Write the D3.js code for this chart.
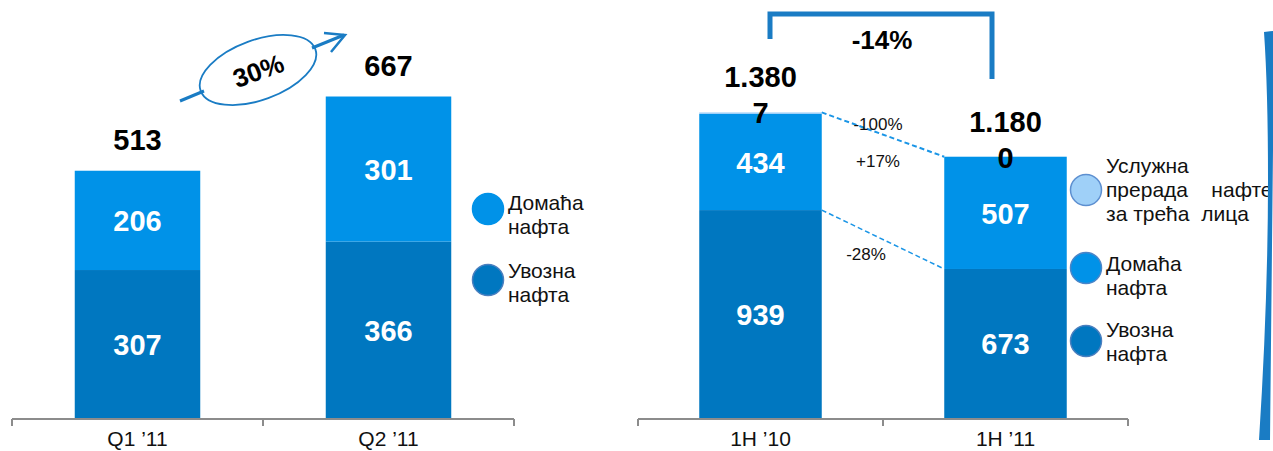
<!DOCTYPE html>
<html>
<head>
<meta charset="utf-8">
<script src="https://cdn.jsdelivr.net/npm/d3@7"></script>
<style>
  body { margin: 0; background: #fff; }
  svg { display: block; font-family: "Liberation Sans", Arial, sans-serif; }
</style>
</head>
<body>
<svg id="chart" width="1273" height="451"></svg>
<script>
var width = 1273, height = 451;

// left chart: quarters
var quarters = ["Q1 ’11", "Q2 ’11"];
var qImported = [307, 366];
var qDomestic = [206, 301];
var qTotals = ["513", "667"];

// right chart: half years
var halves = ["1H ’10", "1H ’11"];
var hImported = [939, 673];
var hDomestic = [434, 507];
var hService = [7, 0];
var hTotals = ["1.380", "1.180"];
var hChanges = ["-100%", "+17%", "-28%"];

var cDark = "#0077c0", cMid = "#0092e8", cLight = "#9fd0f8";

var svg = d3.select("#chart");

function drawAxis(x, y0) {
  var r = x.range(), step = x.step();
  var g = svg.append("g").attr("stroke", "#8c8c8c").attr("stroke-width", 2);
  g.append("line").attr("x1", r[0]).attr("x2", r[1]).attr("y1", y0).attr("y2", y0);
  [r[0], r[0] + step, r[1]].forEach(function(t) {
    g.append("line").attr("x1", t).attr("x2", t).attr("y1", y0).attr("y2", y0 + 7);
  });
}

function drawStack(x, y, cats, layers, colors) {
  cats.forEach(function(c, i) {
    var base = 0;
    layers.forEach(function(vals, k) {
      var v = vals[i];
      if (v > 0) {
        svg.append("rect")
          .attr("x", x(c)).attr("width", x.bandwidth())
          .attr("y", y(base + v)).attr("height", y(base) - y(base + v))
          .attr("fill", colors[k]);
      }
      base += v;
    });
  });
}

function segLabels(x, y, cats, lower, upper) {
  cats.forEach(function(c, i) {
    var cx = x(c) + x.bandwidth() / 2;
    [[0, lower[i]], [lower[i], lower[i] + upper[i]]].forEach(function(s) {
      svg.append("text")
        .attr("x", cx).attr("y", y((s[0] + s[1]) / 2) + 11)
        .attr("text-anchor", "middle").attr("fill", "#fff")
        .attr("font-weight", "bold").attr("font-size", 29)
        .text(s[1] - s[0]);
    });
  });
}

function legend(x0, items) {
  items.forEach(function(it) {
    svg.append("circle").attr("cx", x0).attr("cy", it.cy).attr("r", 15.5)
      .attr("fill", it.color).attr("stroke", it.stroke).attr("stroke-width", 1.5);
    it.lines.forEach(function(l, j) {
      svg.append("text").attr("x", x0 + 20).attr("y", it.ty + j * 24)
        .attr("font-size", 21).attr("fill", "#111").attr("xml:space", "preserve").text(l);
    });
  });
}

// ---------- left chart ----------
var xL = d3.scaleBand().domain(quarters).range([12, 514]).paddingInner(0.5).paddingOuter(0.25);
var yL = d3.scaleLinear().domain([0, 700]).range([418, 80.6]);

drawStack(xL, yL, quarters, [qImported, qDomestic], [cDark, cMid]);
drawAxis(xL, 419);
segLabels(xL, yL, quarters, qImported, qDomestic);

quarters.forEach(function(c, i) {
  var cx = xL(c) + xL.bandwidth() / 2;
  svg.append("text").attr("x", cx).attr("y", yL(qImported[i] + qDomestic[i]) - 21)
    .attr("text-anchor", "middle").attr("font-weight", "bold").attr("font-size", 29)
    .text(qTotals[i]);
  svg.append("text").attr("x", cx).attr("y", 446).attr("text-anchor", "middle")
    .attr("font-size", 21).attr("fill", "#111").text(c);
});

// growth arrow with ellipse
var arr = svg.append("g").attr("stroke", "#1a7cc4").attr("fill", "none");
arr.append("line").attr("x1", 180).attr("y1", 101).attr("x2", 204).attr("y2", 91).attr("stroke-width", 3);
arr.append("line").attr("x1", 312).attr("y1", 48).attr("x2", 344).attr("y2", 35).attr("stroke-width", 3);
arr.append("path").attr("d", "M324,33 L345,35 L331,52").attr("stroke-width", 2.5);
arr.append("ellipse").attr("cx", 258).attr("cy", 70).attr("rx", 61).attr("ry", 30)
  .attr("transform", "rotate(-20,258,70)").attr("stroke-width", 1.8);
svg.append("text").attr("x", 258).attr("y", 80).attr("text-anchor", "middle")
  .attr("font-weight", "bold").attr("font-size", 26)
  .attr("transform", "rotate(-20,258,70)").text("30%");

legend(488, [
  { cy: 209, ty: 210, color: cMid, stroke: cMid, lines: ["Домаћа", "нафта"] },
  { cy: 280, ty: 278, color: cDark, stroke: "#4a7fbf", lines: ["Увозна", "нафта"] }
]);

// ---------- right chart ----------
var xR = d3.scaleBand().domain(halves).range([638, 1128]).paddingInner(0.5).paddingOuter(0.25);
var yR = d3.scaleLinear().domain([0, 1400]).range([418, 108]);

drawStack(xR, yR, halves, [hImported, hDomestic, hService], [cDark, cMid, cLight]);
drawAxis(xR, 419);
segLabels(xR, yR, halves, hImported, hDomestic);

halves.forEach(function(c, i) {
  var cx = xR(c) + xR.bandwidth() / 2;
  var top = yR(hImported[i] + hDomestic[i] + hService[i]);
  svg.append("text").attr("x", cx).attr("y", top - 25)
    .attr("text-anchor", "middle").attr("font-weight", "bold").attr("font-size", 29)
    .text(hTotals[i]);
  svg.append("text").attr("x", cx).attr("y", top + 11)
    .attr("text-anchor", "middle").attr("font-weight", "bold").attr("font-size", 29)
    .text(hService[i]);
  svg.append("text").attr("x", cx).attr("y", 446).attr("text-anchor", "middle")
    .attr("font-size", 21).attr("fill", "#111").text(c);
});

// dashed connectors between bars
var xa = xR(halves[0]) + xR.bandwidth(), xb = xR(halves[1]);
[[hImported[0] + hDomestic[0] + hService[0], hImported[1] + hDomestic[1] + hService[1], 2],
 [hImported[0], hImported[1], 1.5]].forEach(function(d) {
  svg.append("line").attr("x1", xa).attr("y1", yR(d[0])).attr("x2", xb).attr("y2", yR(d[1]))
    .attr("stroke", "#1a95e6").attr("stroke-width", d[2]).attr("stroke-dasharray", "5,3");
});
[[878, 130], [878, 167], [866, 260]].forEach(function(p, i) {
  svg.append("text").attr("x", p[0]).attr("y", p[1]).attr("text-anchor", "middle")
    .attr("font-size", 17).attr("fill", "#111").text(hChanges[i]);
});

// -14% bracket
svg.append("path").attr("d", "M770,39 L770,14 L992,14 L992,79")
  .attr("fill", "none").attr("stroke", "#1a7cc4").attr("stroke-width", 5);
svg.append("text").attr("x", 882).attr("y", 49).attr("text-anchor", "middle")
  .attr("font-weight", "bold").attr("font-size", 26).text("-14%");

legend(1086, [
  { cy: 190, ty: 173, color: cLight, stroke: "#5d8fd0", lines: ["Услужна", "прерада    нафте", "за трећа  лица"] },
  { cy: 268, ty: 271, color: cMid, stroke: "#4a85c8", lines: ["Домаћа", "нафта"] },
  { cy: 341, ty: 337, color: cDark, stroke: "#4a7fbf", lines: ["Увозна", "нафта"] }
]);

// decorative stripe on the right edge
svg.append("path")
  .attr("d", "M1264,32 L1273,31 L1273,150 L1270,440 L1259,440 Q1268,300 1268,180 Q1268,90 1264,32 Z")
  .attr("fill", "#1a7cc4");
</script>
</body>
</html>
